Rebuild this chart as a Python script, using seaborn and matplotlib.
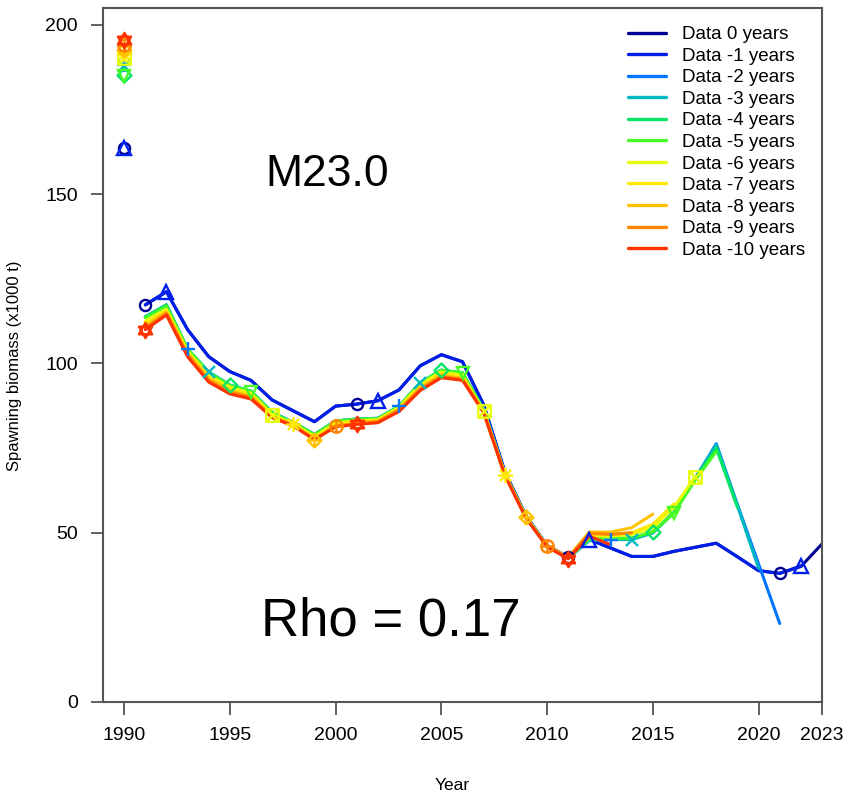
import matplotlib
matplotlib.use("Agg")
import matplotlib.pyplot as plt
import seaborn as sns
import pandas as pd
from matplotlib.path import Path
from matplotlib.lines import Line2D

# ---------------- data ----------------
run_names = ["Data 0 years", "Data -1 years", "Data -2 years", "Data -3 years",
             "Data -4 years", "Data -5 years", "Data -6 years", "Data -7 years",
             "Data -8 years", "Data -9 years", "Data -10 years"]
run_colors = ["#000093", "#0020E9", "#0076FF", "#00B8C2", "#04E466", "#49FB25",
              "#E7FD09", "#FEEA02", "#FFC200", "#FF8500", "#FF3300"]
first_year = 1991
virgin_year = 1990
virgin = [163.5, 163.5, 188.3, 188.0, 185.3, 185.0, 190.3, 191.5, 192.5, 194.0, 195.5]

ssb_0 = [117.3, 121.2, 110.0, 102.0, 97.6, 95.0, 89.2, 86.0, 82.8, 87.4, 88.0, 89.0,
         92.2, 99.3, 102.6, 100.5, 87.8, 68.0, 55.0, 46.2, 42.8, 48.0, 45.5, 43.0,
         43.0, 44.5, 45.7, 46.9, 42.9, 38.8, 38.0, 40.0, 46.7]
ssb_1 = [117.3, 121.2, 110.0, 102.0, 97.6, 95.0, 89.2, 86.0, 82.8, 87.4, 88.0, 89.0,
         92.2, 99.3, 102.6, 100.5, 87.8, 68.0, 55.0, 46.2, 42.8, 48.0, 45.5, 43.0,
         43.0, 44.5, 45.7, 46.9, 42.9, 38.8, 38.0, 40.2]
ssb_2 = [113.8, 117.3, 104.2, 97.5, 93.6, 91.8, 85.5, 82.6, 79.0, 83.0, 83.6, 83.8,
         87.3, 94.3, 98.0, 97.2, 86.5, 67.5, 54.8, 46.0, 42.5, 47.8, 48.0, 48.0,
         50.0, 56.0, 66.0, 76.3, 58.3, 40.8, 23.2]
ssb_3 = [113.8, 117.3, 104.2, 97.4, 93.6, 91.8, 85.5, 82.6, 79.0, 83.0, 83.6, 83.8,
         87.3, 94.3, 98.0, 97.2, 86.4, 67.5, 54.8, 46.0, 42.5, 47.8, 48.0, 48.0,
         50.0, 56.0, 66.0, 76.0, 58.0, 39.5]
ssb_4 = [113.7, 117.2, 104.2, 97.4, 93.5, 91.7, 85.4, 82.5, 78.9, 83.0, 83.5, 83.7,
         87.3, 94.2, 98.0, 97.2, 86.3, 67.4, 54.7, 46.0, 42.5, 48.0, 48.2, 48.3,
         50.2, 55.9, 65.8, 75.0, 57.5]
ssb_5 = [113.5, 117.0, 104.2, 97.3, 93.5, 91.7, 85.3, 82.5, 78.9, 83.0, 83.5, 83.7,
         87.3, 94.2, 98.0, 97.2, 86.2, 67.4, 54.7, 46.0, 42.6, 48.2, 48.3, 48.5,
         50.3, 55.8, 65.5, 74.0]
ssb_6 = [112.5, 116.0, 103.6, 96.5, 93.0, 91.2, 84.8, 82.2, 78.4, 82.4, 83.1, 83.4,
         87.0, 93.8, 97.5, 96.5, 85.9, 67.3, 54.7, 46.0, 42.7, 49.0, 49.0, 49.5,
         51.5, 57.5, 66.6]
ssb_7 = [112.0, 115.6, 103.3, 96.0, 92.5, 90.8, 84.6, 82.0, 78.0, 82.0, 82.8, 83.2,
         86.8, 93.3, 97.0, 96.0, 85.8, 67.2, 54.6, 46.0, 42.8, 49.5, 49.5, 50.0,
         52.5, 58.5]
ssb_8 = [111.0, 115.2, 103.0, 95.5, 92.0, 90.3, 84.4, 81.8, 77.5, 81.6, 82.4, 83.0,
         86.5, 92.8, 96.5, 95.6, 85.7, 67.2, 54.5, 46.0, 42.8, 50.2, 50.2, 51.5,
         55.5]
ssb_9 = [110.5, 114.8, 102.5, 95.0, 91.5, 90.0, 84.2, 81.7, 77.6, 81.4, 82.2, 82.8,
         86.2, 92.4, 96.2, 95.3, 85.6, 67.1, 54.4, 46.0, 42.6, 49.8, 49.5, 50.0]
ssb_10 = [110.0, 114.3, 102.0, 94.5, 91.0, 89.5, 84.0, 81.5, 77.5, 81.3, 82.0, 82.5,
          85.8, 92.0, 95.8, 95.0, 85.5, 67.0, 54.3, 45.8, 42.3, 49.0, 46.5]
series = [ssb_0, ssb_1, ssb_2, ssb_3, ssb_4, ssb_5, ssb_6, ssb_7, ssb_8, ssb_9, ssb_10]

x_ticks = [1990, 1995, 2000, 2005, 2010, 2015, 2020, 2023]
y_ticks = [0, 50, 100, 150, 200]

# ---------------- markers (R pch 1..11) ----------------
def lines_path(segs, closed_polys=()):
    verts, codes = [], []
    for poly in closed_polys:
        verts += poly + [poly[0]]
        codes += [Path.MOVETO] + [Path.LINETO] * (len(poly) - 1) + [Path.CLOSEPOLY]
    for a, b in segs:
        verts += [a, b]
        codes += [Path.MOVETO, Path.LINETO]
    return Path(verts, codes)

sq = [(-1, -1), (1, -1), (1, 1), (-1, 1)]
dia = [(0, -1.25), (1.25, 0), (0, 1.25), (-1.25, 0)]
tri_up = [(0, 1.1), (-0.95, -0.55), (0.95, -0.55)]
tri_dn = [(0, -1.1), (-0.95, 0.55), (0.95, 0.55)]
m_boxx = lines_path([((-1, -1), (1, 1)), ((-1, 1), (1, -1))], [sq])
m_star = lines_path([((-1.1, 0), (1.1, 0)), ((0, -1.1), (0, 1.1)),
                     ((-0.8, -0.8), (0.8, 0.8)), ((-0.8, 0.8), (0.8, -0.8))])
m_diap = lines_path([((-1.25, 0), (1.25, 0)), ((0, -1.25), (0, 1.25))], [dia])
m_dia = lines_path([], [dia])
m_circp = Path.make_compound_path(Path.unit_circle(),
                                  lines_path([((-1, 0), (1, 0)), ((0, -1), (0, 1))]))
m_hex = lines_path([], [tri_up, tri_dn])
markers = ["o", "^", "+", "x", m_dia, "v", m_boxx, m_star, m_diap, m_circp, m_hex]
msizes = [8, 10, 10, 9, 10, 9, 9, 11, 10, 9, 11]

# ---------------- long table ----------------
rows = []
for name, vals in zip(run_names, series):
    for k, v in enumerate(vals):
        rows.append({"Year": first_year + k, "SSB": v, "Run": name})
df = pd.DataFrame(rows)

# ---------------- plot ----------------
sns.set_theme(style="white")
plt.rcParams["font.family"] = ["Liberation Sans", "DejaVu Sans"]
plt.rcParams["text.color"] = "black"
plt.rcParams["axes.labelcolor"] = "black"
plt.rcParams["xtick.color"] = "black"
plt.rcParams["ytick.color"] = "black"

fig = plt.figure(figsize=(8.48, 7.97), dpi=100)
ax = fig.add_axes([103 / 848, 95 / 797, (822 - 103) / 848, (702 - 8) / 797])

sns.lineplot(data=df, x="Year", y="SSB", hue="Run", hue_order=run_names,
             palette=dict(zip(run_names, run_colors)), linewidth=2.2,
             estimator=None, sort=False, legend=False, ax=ax)

for i, (vals, col) in enumerate(zip(series, run_colors)):
    yrs = [first_year + k for k in range(len(vals))]
    px = [virgin_year] + [y for y in yrs if (y - first_year) % 10 == i % 10]
    py = [virgin[i]] + [vals[y - first_year] for y in px[1:]]
    ax.plot(px, py, linestyle="none", marker=markers[i], markersize=msizes[i],
            markerfacecolor="none", markeredgecolor=col, markeredgewidth=1.7)

ax.set_xlim(1989, 2023)
ax.set_ylim(0, 205)
ax.set_xticks(x_ticks)
ax.set_yticks(y_ticks)
ax.tick_params(axis="both", which="major", direction="out", length=9, width=1.3,
               color="#555555", labelcolor="black", labelsize=14, pad=9,
               bottom=True, left=True)
for s in ax.spines.values():
    s.set_color("#555555")
    s.set_linewidth(1.5)

ax.set_xlabel("Year", fontsize=12.5, color="black")
ax.set_ylabel("Spawning biomass (x1000 t)", fontsize=12, color="black")
ax.xaxis.set_label_coords(0.485, -0.11)
ax.yaxis.set_label_coords(-0.112, 0.485)

handles = [Line2D([0], [0], color=c, lw=2.4) for c in run_colors]
leg = ax.legend(handles, run_names, loc="upper right", bbox_to_anchor=(0.992, 0.99),
                frameon=False, fontsize=13.5, handlelength=2.0, handletextpad=0.85,
                labelspacing=0.235, borderaxespad=0.2)

fig.text(265 / 848, 1 - 175 / 797, "M23.0", fontsize=32, ha="left", va="center")
fig.text(261 / 848, 1 - 622 / 797, "Rho = 0.17", fontsize=38, ha="left", va="center")

fig.savefig("out.png", dpi=100)
